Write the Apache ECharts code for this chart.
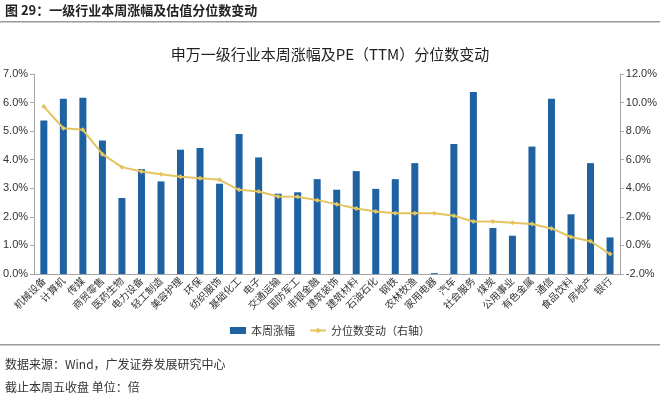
<!DOCTYPE html>
<html>
<head>
<meta charset="utf-8">
<script src="https://cdn.jsdelivr.net/npm/echarts@6/dist/echarts.min.js"></script>
<style>
  html, body { margin: 0; padding: 0; background: #fff; }
  #main { width: 660px; height: 398px; }
</style>
</head>
<body>
<div id="main"></div>
<script>
// 申万一级行业
const categories = ['机械设备', '计算机', '传媒', '商贸零售', '医药生物', '电力设备', '轻工制造', '美容护理', '环保', '纺织服饰',
  '基础化工', '电子', '交通运输', '国防军工', '非银金融', '建筑装饰', '建筑材料', '石油石化', '钢铁', '农林牧渔',
  '家用电器', '汽车', '社会服务', '煤炭', '公用事业', '有色金属', '通信', '食品饮料', '房地产', '银行']
// 本周涨幅 (%)
const weekChange = [5.37, 6.13, 6.17, 4.67, 2.66, 3.67, 3.24, 4.35, 4.41, 3.16,
  4.90, 4.08, 2.81, 2.86, 3.32, 2.95, 3.60, 2.98, 3.32, 3.88,
  0.03, 4.55, 6.37, 1.61, 1.34, 4.46, 6.13, 2.09, 3.88, 1.28]
// 分位数变动 (%) 右轴
const pctChange = [9.72, 8.20, 8.09, 6.39, 5.48, 5.18, 4.99, 4.80, 4.71, 4.59,
  3.89, 3.78, 3.43, 3.40, 3.17, 2.89, 2.59, 2.38, 2.26, 2.26,
  2.26, 2.08, 1.68, 1.68, 1.59, 1.50, 1.19, 0.59, 0.29, -0.60]

const cjk = '"Noto Sans CJK SC", sans-serif'
const latin = '"Liberation Sans", Arial, sans-serif'

const chart = echarts.init(document.getElementById('main'))
const option = {
  animation: false,
  backgroundColor: '#fff',
  title: {
    text: '申万一级行业本周涨幅及PE（TTM）分位数变动',
    left: 'center',
    top: 42,
    textStyle: { fontFamily: cjk, fontSize: 15, fontWeight: 'normal', color: '#222' }
  },
  legend: {
    top: 320,
    left: 'center',
    itemGap: 14,
    itemWidth: 16,
    itemHeight: 7,
    textStyle: { fontFamily: cjk, fontSize: 11, color: '#333' },
    data: [
      { name: '本周涨幅', icon: 'rect' },
      { name: '分位数变动（右轴）' }
    ]
  },
  grid: { left: 34, right: 37, top: 74, bottom: 124 },
  xAxis: {
    type: 'category',
    data: categories,
    axisLine: { lineStyle: { color: '#a6a6a6' } },
    axisTick: { show: false },
    axisLabel: { interval: 0, rotate: 45, margin: 5, fontFamily: cjk, fontSize: 10, color: '#333' }
  },
  yAxis: [
    {
      type: 'value',
      min: 0, max: 7, interval: 1,
      axisLine: { show: true, lineStyle: { color: '#a6a6a6' } },
      axisTick: { show: true, length: 4, lineStyle: { color: '#a6a6a6' } },
      splitLine: { show: false },
      axisLabel: { formatter: v => v.toFixed(1) + '%', fontFamily: latin, fontSize: 11, color: '#333', margin: 6 }
    },
    {
      type: 'value',
      min: -2, max: 12, interval: 2,
      axisLine: { show: true, lineStyle: { color: '#a6a6a6' } },
      axisTick: { show: true, length: 4, lineStyle: { color: '#a6a6a6' } },
      splitLine: { show: false },
      axisLabel: { formatter: v => v.toFixed(1) + '%', fontFamily: latin, fontSize: 11, color: '#333', margin: 6 }
    }
  ],
  series: [
    {
      name: '本周涨幅',
      type: 'bar',
      data: weekChange,
      barWidth: 7,
      itemStyle: { color: '#1f62a2' }
    },
    {
      name: '分位数变动（右轴）',
      type: 'line',
      yAxisIndex: 1,
      data: pctChange,
      symbol: 'diamond',
      symbolSize: 5,
      lineStyle: { color: '#e3c45e', width: 2 },
      itemStyle: { color: '#e3c45e' }
    }
  ],
  graphic: [
    {
      type: 'text', left: 5, top: 4,
      style: { text: '图 29：一级行业本周涨幅及估值分位数变动', font: 'bold 13px ' + cjk, fill: '#222' }
    },
    {
      type: 'rect', shape: { x: 0, y: 21, width: 660, height: 1.5 },
      style: { fill: '#9a9a9a' }
    },
    {
      type: 'rect', shape: { x: 0, y: 344, width: 660, height: 1.5 },
      style: { fill: '#9a9a9a' }
    },
    {
      type: 'text', left: 5, top: 358,
      style: { text: '数据来源：Wind，广发证券发展研究中心', font: '12px ' + cjk, fill: '#333' }
    },
    {
      type: 'text', left: 5, top: 381,
      style: { text: '截止本周五收盘 单位：倍', font: '12px ' + cjk, fill: '#333' }
    }
  ]
}
chart.setOption(option)
</script>
</body>
</html>
